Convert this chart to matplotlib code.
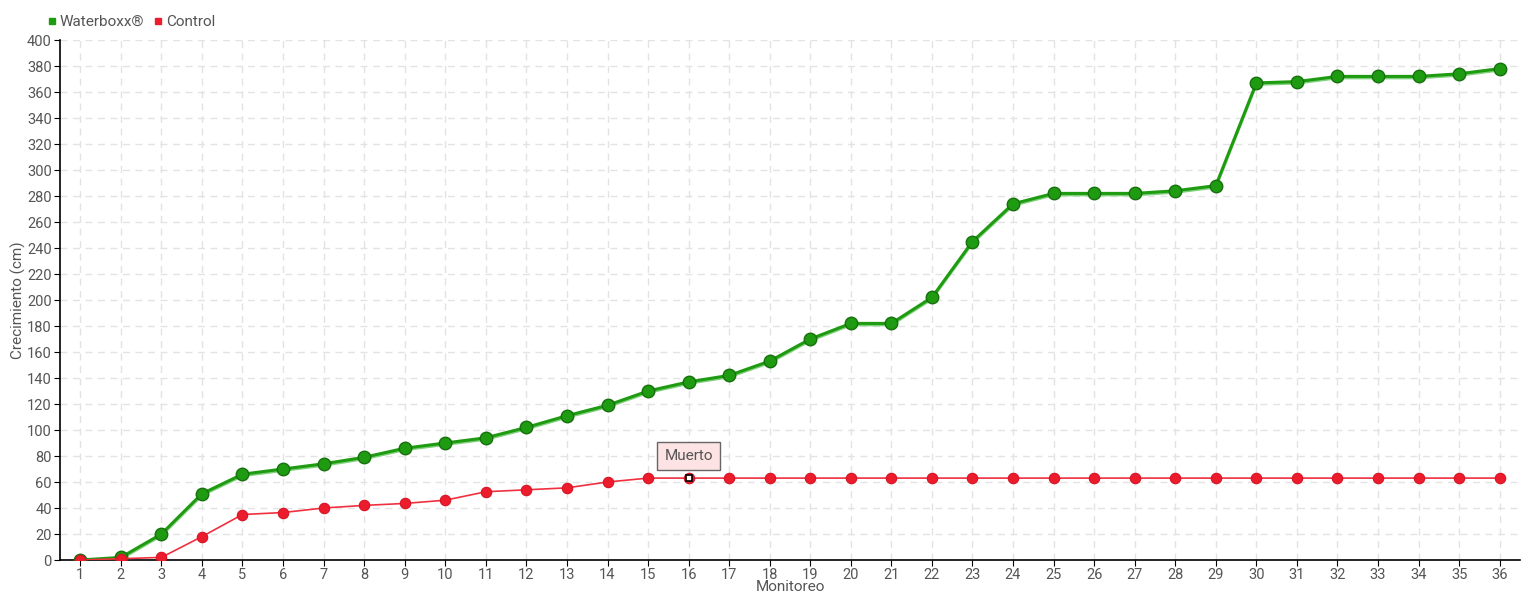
import numpy as np
import matplotlib.pyplot as plt
from matplotlib.lines import Line2D

monitoreo = list(range(1, 37))
waterboxx = [0, 2, 20, 51, 66, 70, 74, 79, 86, 90, 94, 102, 111, 119, 130, 137,
             142, 153, 170, 182, 182, 202, 245, 274, 282, 282, 282, 284, 288,
             367, 368, 372, 372, 372, 374, 378]
control = [0, 1, 2, 18, 35, 36.5, 40, 42, 43.5, 46, 52.5, 54, 55.5, 60, 63,
           63, 63, 63, 63, 63, 63, 63, 63, 63, 63, 63, 63, 63, 63, 63, 63, 63,
           63, 63, 63, 63]
nota_idx = 15
nota_text = "Muerto"

plt.rcParams['font.family'] = ['Roboto', 'DejaVu Sans']
txt = '#555555'
verde = '#1e9b10'
rojo = '#ec1c2c'

fig = plt.figure(figsize=(15.4, 6), dpi=100)
ax = fig.add_axes([60 / 1540, 40 / 600, 1460 / 1540, 520 / 600])

ax.set_xlim(0.5, 36.5)
ax.set_ylim(0, 400)
ax.set_xticks(monitoreo)
ax.set_yticks(np.arange(0, 401, 20))
ax.grid(True, color='#e3e3e3', linestyle=(0, (5, 4)), linewidth=1)
ax.set_axisbelow(True)

for s in ['top', 'right']:
    ax.spines[s].set_visible(False)
for s in ['left', 'bottom']:
    ax.spines[s].set_color('black')
    ax.spines[s].set_linewidth(1.2)
ax.tick_params(direction='out', length=4, color='black', labelcolor=txt,
               labelsize=10.5, pad=2)

# green series: light shadow line under a darker one
ax.plot(monitoreo, np.array(waterboxx) - 1.2, color='#7fd07a', linewidth=2, zorder=2)
ax.plot(monitoreo, waterboxx, color=verde, linewidth=2.2, marker='o', markersize=9,
        markerfacecolor=verde, markeredgecolor='#17700e', markeredgewidth=1, zorder=3)
ax.plot(monitoreo, control, color='#f0303f', linewidth=1.2, marker='o', markersize=7.5,
        markerfacecolor=rojo, markeredgecolor='#d61424', markeredgewidth=0.8, zorder=4)

# annotation marker and box
xn, yn = monitoreo[nota_idx], control[nota_idx]
ax.plot([xn], [yn], marker='s', markersize=5, markerfacecolor='white',
        markeredgecolor='black', markeredgewidth=1.2, zorder=6)
ax.annotate(nota_text, xy=(xn, yn), xytext=(0, 16), textcoords='offset points',
            ha='center', va='center', fontsize=11, color=txt, zorder=7,
            bbox=dict(boxstyle='square,pad=0.45', facecolor='#fde3e3',
                      edgecolor='#666666', linewidth=1))

ax.set_xlabel('Monitoreo', fontsize=11, color=txt, labelpad=-2)
ax.set_ylabel('Crecimiento (cm)', fontsize=11, color=txt)
ax.yaxis.set_label_coords(-34 / 1460, 0.5)

# legend
handles = [Line2D([], [], linestyle='none', marker='s', markersize=5, color=verde),
           Line2D([], [], linestyle='none', marker='s', markersize=5, color=rojo)]
fig.legend(handles, ['Waterboxx®', 'Control'], loc='center left',
           bbox_to_anchor=(40 / 1540, 1 - 22 / 600), ncol=2, frameon=False,
           handlelength=0.6, handletextpad=0.2, columnspacing=0.6,
           fontsize=11, labelcolor=txt, borderpad=0)

fig.savefig('out.png', dpi=100)
